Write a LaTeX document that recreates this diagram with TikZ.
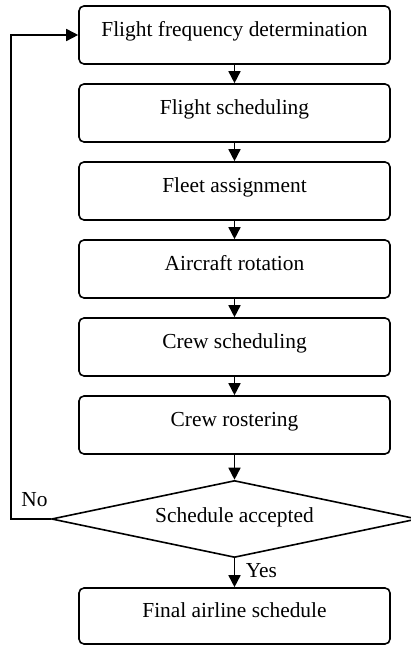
\documentclass[tikz,border=0pt]{standalone}
\usepackage{fontspec}
\setmainfont{Liberation Serif}
\usetikzlibrary{shapes.geometric,arrows.meta}

\begin{document}
\begin{tikzpicture}[x=1pt, y=1pt,
    stage/.style={draw, line width=1.6pt, rounded corners=5pt, minimum width=311pt,
      minimum height=58pt, inner sep=0pt, text height=15pt, text depth=12pt,
      font=\fontsize{21.4}{26}\selectfont},
    check/.style={draw, diamond, line width=1.6pt, aspect=4.75, minimum width=366pt,
      minimum height=77pt, inner sep=0pt, text height=15pt, text depth=7pt,
      font=\fontsize{21.4}{26}\selectfont},
    answer/.style={inner sep=0pt, font=\fontsize{21.4}{26}\selectfont},
    flow/.style={line width=1.6pt, -{Triangle[length=12pt, width=12pt]}}]
        \useasboundingbox (0,0) rectangle (411,645);                     %
        \clip (0,0) rectangle (411,645);                                 %

        \node [stage] (freq)   at (234.5,610) {Flight frequency determination}; %
        \node [stage] (sched)  at (234.5,532) {Flight scheduling};        %
        \node [stage] (fleet)  at (234.5,454) {Fleet assignment};         %
        \node [stage] (rotate) at (234.5,376) {Aircraft rotation};        %
        \node [stage] (crew)   at (234.5,298) {Crew scheduling};          %
        \node [stage] (roster) at (234.5,220) {Crew rostering};           %
        \node [check] (accept) at (234.5,126) {Schedule accepted};        % decision
        \node [stage, minimum height=56pt] (final) at (234.5,29) {Final airline schedule};

        \draw [flow] (freq)   -- (sched);                                %
        \draw [flow] (sched)  -- (fleet);                                %
        \draw [flow] (fleet)  -- (rotate);                               %
        \draw [flow] (rotate) -- (crew);                                 %
        \draw [flow] (crew)   -- (roster);                               %
        \draw [flow] (roster) -- (accept);                               %
        \draw [flow] (accept) -- node [answer, anchor=base west, xshift=10.5pt, yshift=-5pt] (yes) {Yes} (final);
        \draw [flow] (accept.west) -- ++(-39.5,0) coordinate (turn) |- (freq.west); % back loop
        \node [answer, anchor=base west] (no) at ([xshift=10pt, yshift=12pt]turn) {No};
      \end{tikzpicture}
\end{document}
